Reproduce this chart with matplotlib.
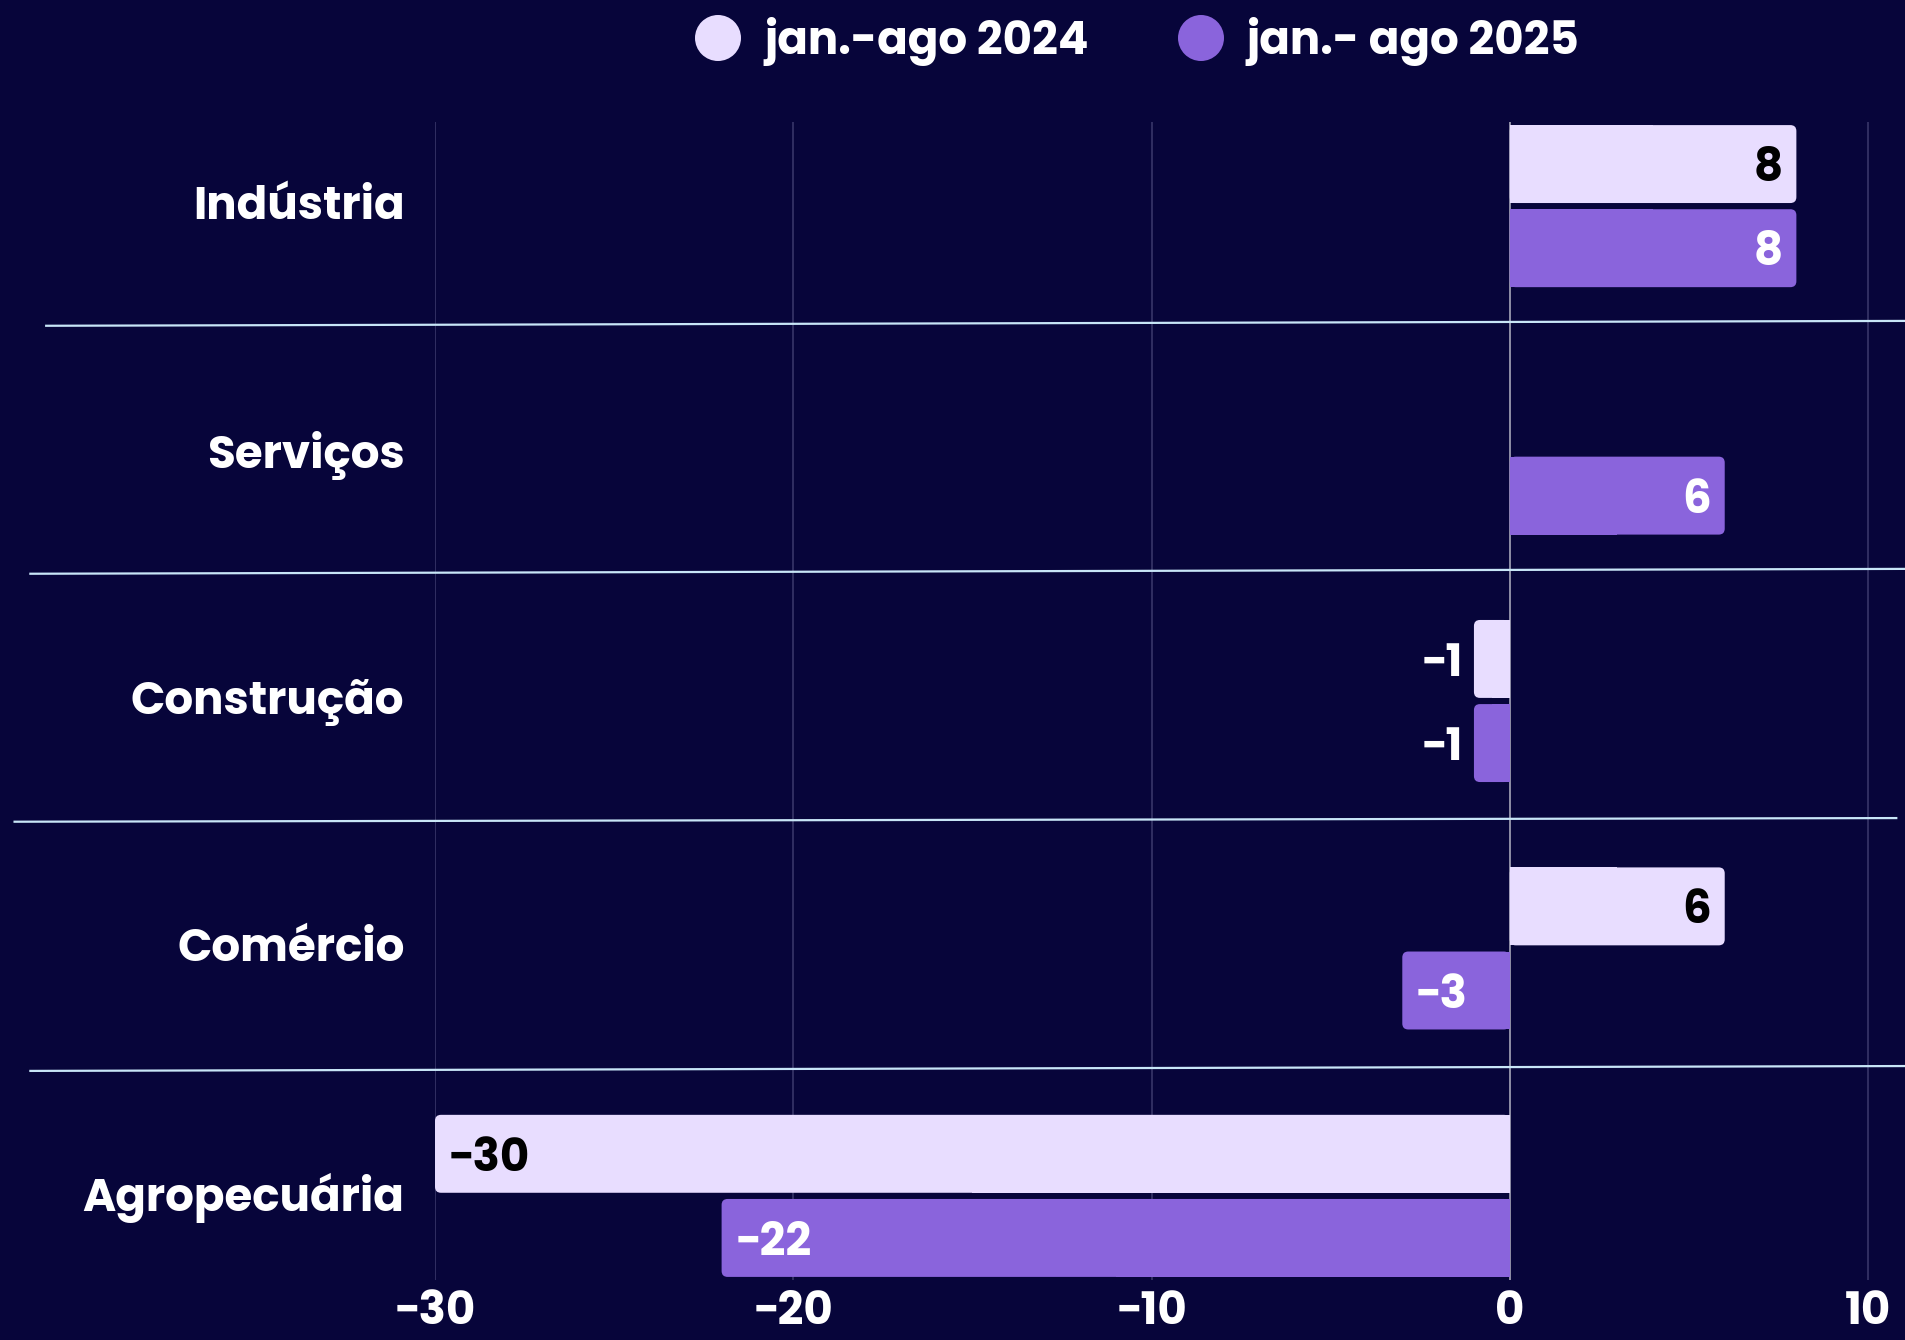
import matplotlib
matplotlib.use("Agg")
import matplotlib.pyplot as plt
import matplotlib.transforms as mtransforms
from matplotlib.patches import FancyBboxPatch, Rectangle, Ellipse
from matplotlib.lines import Line2D
import numpy as np

categories = ["Indústria", "Serviços", "Construção", "Comércio", "Agropecuária"]
series_names = ["jan.-ago 2024", "jan.- ago 2025"]
values_2024 = [8, 0, -1, 6, -30]
values_2025 = [8, 6, -1, -3, -22]
xticks = [-30, -20, -10, 0, 10]

BG = "#07053a"
C24 = "#e8ddff"
C25 = "#8a64dc"
FONT = ["Poppins", "Noto Sans", "DejaVu Sans"]
plt.rcParams["font.family"] = FONT

W, H = 1906, 1340
fig = plt.figure(figsize=(W / 100, H / 100), dpi=100, facecolor=BG)
ax = fig.add_axes([435 / W, 1 - 1280 / H, 1 - 435 / W, (1280 - 122) / H])
ax.set_facecolor(BG)
ax.set_xlim(-30, 11.06)
ax.set_ylim(4.34, -0.34)

# grid
for t in xticks:
    col = "#b4b4c4" if t == 0 else "#3c3a6c"
    ax.axvline(t, color=col, lw=1.1, zorder=1)

bh = 0.315
off = 0.17
y = np.arange(len(categories))
b1 = ax.barh(y - off, values_2024, height=bh, visible=False)
b2 = ax.barh(y + off, values_2025, height=bh, visible=False)

xr = 6 / 35.83
yr = 6 / 248.0

def rounded(bar, color):
    x0, y0 = bar.get_x(), bar.get_y()
    w, h = bar.get_width(), bar.get_height()
    if w == 0:
        return
    left, right = min(x0, x0 + w), max(x0, x0 + w)
    p = FancyBboxPatch((left, y0), right - left, h,
                       boxstyle=f"round,pad=0,rounding_size={xr}",
                       mutation_aspect=yr / xr, fc=color, ec="none", zorder=3)
    ax.add_patch(p)
    half = (right - left) / 2
    if w > 0:
        r = Rectangle((0, y0), half, h, fc=color, ec="none", zorder=3)
    else:
        r = Rectangle((-half, y0), half, h, fc=color, ec="none", zorder=3)
    ax.add_patch(r)

for bar in b1:
    rounded(bar, C24)
for bar in b2:
    rounded(bar, C25)

fs = 32.5
pad = 0.38
def label(bars, vals, incol):
    for bar, v in zip(bars, vals):
        if v == 0:
            continue
        yc = bar.get_y() + bar.get_height() / 2
        txt = f"{v}".replace("-", "\u2212")
        kw = dict(va="center_baseline", fontsize=fs, fontweight="bold", zorder=4)
        if abs(v) >= 3:
            if v > 0:
                ax.text(v - pad, yc, txt, ha="right", color=incol, **kw)
            else:
                ax.text(v + pad, yc, txt, ha="left", color=incol, **kw)
        else:
            if v > 0:
                ax.text(v + 0.3, yc, txt, ha="left", color="white", **kw)
            else:
                ax.text(v - 0.3, yc, txt, ha="right", color="white", **kw)

label(b1, values_2024, "black")
label(b2, values_2025, "white")

ax.set_xticks(xticks)
ax.set_xticklabels([str(t).replace("-", "\u2212") for t in xticks], color="white",
                   fontsize=fs, fontweight="bold")
ax.tick_params(axis="x", length=0, pad=7)
ax.set_yticks(y)
ax.set_yticklabels(categories, color="white", fontsize=fs, fontweight="bold",
                   va="center_baseline")
ax.tick_params(axis="y", length=0, pad=22)
shift = mtransforms.ScaledTranslation(0, 4 / 100, fig.dpi_scale_trans)
for lab in ax.get_yticklabels():
    lab.set_transform(lab.get_transform() + shift)
for s in ax.spines.values():
    s.set_visible(False)

# separator lines (slightly tilted, figure pixels)
k = W / 1568
seps = [((38, 268), (1568, 264)), ((25, 472), (1568, 468)),
        ((12, 676), (1560, 673)), ((25, 881), (1568, 877))]
for (xa, ya), (xb, yb) in seps:
    fig.add_artist(Line2D([xa * k / W, xb * k / W], [1 - ya * k / H, 1 - yb * k / H],
                          transform=fig.transFigure, color="#c8e6f7", lw=1.6, zorder=5))

# legend
for cx, tx, col, name in [(718, 764, C24, series_names[0]), (1201, 1246, C25, series_names[1])]:
    fig.add_artist(Ellipse((cx / W, 1 - 38 / H), 46 / W, 46 / H, transform=fig.transFigure,
                           fc=col, ec="none"))
    fig.text(tx / W, 1 - 36 / H, name, color="white", fontsize=fs, fontweight="bold",
             ha="left", va="center_baseline")

fig.savefig("out.png", dpi=100, facecolor=BG)
